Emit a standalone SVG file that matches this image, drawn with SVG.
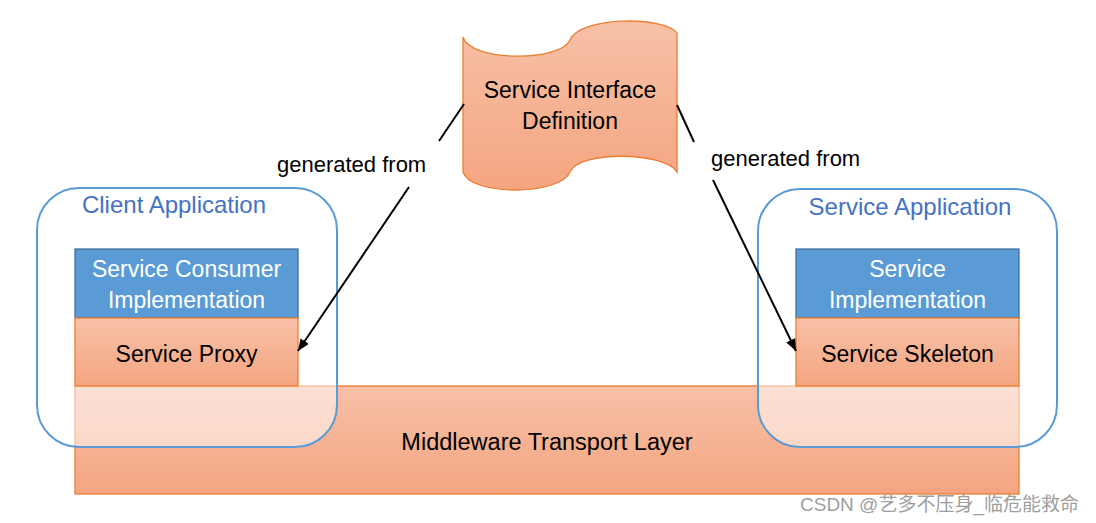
<svg xmlns="http://www.w3.org/2000/svg" width="1096" height="523" viewBox="0 0 1096 523">
<defs>
<linearGradient id="og" x1="0" y1="0" x2="0" y2="1">
<stop offset="0" stop-color="#F7C1A8"/>
<stop offset="1" stop-color="#F4A580"/>
</linearGradient>
<marker id="ah" viewBox="0 0 12 10" refX="12" refY="5" markerWidth="12" markerHeight="10" markerUnits="userSpaceOnUse" orient="auto">
<path d="M0,0 L12,5 L0,10 Z" fill="#000"/>
</marker>
<style>
.orange{fill:url(#og);stroke:#ED7D31;stroke-width:1.3}
.blue{fill:#5B9BD5;stroke:#41719C;stroke-width:1.3}
.app{fill:#FFFFFF;fill-opacity:0.5;stroke:#5B9BD5;stroke-width:2}
.t{font-family:"Liberation Sans",Arial,sans-serif;font-size:23px;text-anchor:middle;fill:#000}
.w{fill:#FFFFFF}
.bl{fill:#4472C4;font-size:24px}
.lbl{font-family:"Liberation Sans",Arial,sans-serif;font-size:22px;fill:#000}
.conn{stroke:#000;stroke-width:2;fill:none}
</style>
</defs>
<rect width="1096" height="523" fill="#FFFFFF"/>

<g id="middleware">
<rect class="orange" x="75" y="386" width="944" height="108"/>
<text class="t" x="547" y="450" style="font-size:23.5px">Middleware Transport Layer</text>
</g>

<g id="client-app">
<rect class="app" x="37" y="188" width="300" height="259" rx="42" ry="42"/>
<text class="t bl" x="174" y="213">Client Application</text>
</g>

<g id="service-app">
<rect class="app" x="758" y="189" width="299" height="258" rx="42" ry="42"/>
<text class="t bl" x="910" y="215">Service Application</text>
</g>

<g id="consumer-impl">
<rect class="blue" x="75" y="249" width="223" height="69"/>
<text class="t w" x="186.5" y="277">Service Consumer</text>
<text class="t w" x="186.5" y="308">Implementation</text>
</g>

<g id="service-proxy">
<rect class="orange" x="75" y="318" width="223" height="68"/>
<text class="t" x="186.5" y="362">Service Proxy</text>
</g>

<g id="service-impl">
<rect class="blue" x="796" y="249" width="223" height="69"/>
<text class="t w" x="907.5" y="277">Service</text>
<text class="t w" x="907.5" y="308">Implementation</text>
</g>

<g id="service-skeleton">
<rect class="orange" x="796" y="318" width="223" height="68"/>
<text class="t" x="907.5" y="362">Service Skeleton</text>
</g>

<g id="interface-def">
<path class="orange" d="M463,37 C470,62 560,62 570,40 C580,16 665,16 677,33 L677,172 C665,152 580,150 570,172 C560,196 470,196 463,172 Z"/>
<text class="t" x="570" y="98">Service Interface</text>
<text class="t" x="570" y="129">Definition</text>
</g>

<g id="connectors">
<line class="conn" x1="464" y1="104" x2="439" y2="141"/>
<line class="conn" x1="409" y1="187" x2="298" y2="351" marker-end="url(#ah)"/>
<text class="lbl" x="277" y="172">generated from</text>
<line class="conn" x1="677" y1="105" x2="694" y2="142"/>
<line class="conn" x1="713" y1="180" x2="796" y2="351" marker-end="url(#ah)"/>
<text class="lbl" x="711" y="166">generated from</text>
</g>

<text x="800" y="511" font-family="Liberation Sans, 'Noto Sans CJK SC', sans-serif" font-size="19" fill="#9E9E9E">CSDN @艺多不压身_临危能救命</text>
</svg>
